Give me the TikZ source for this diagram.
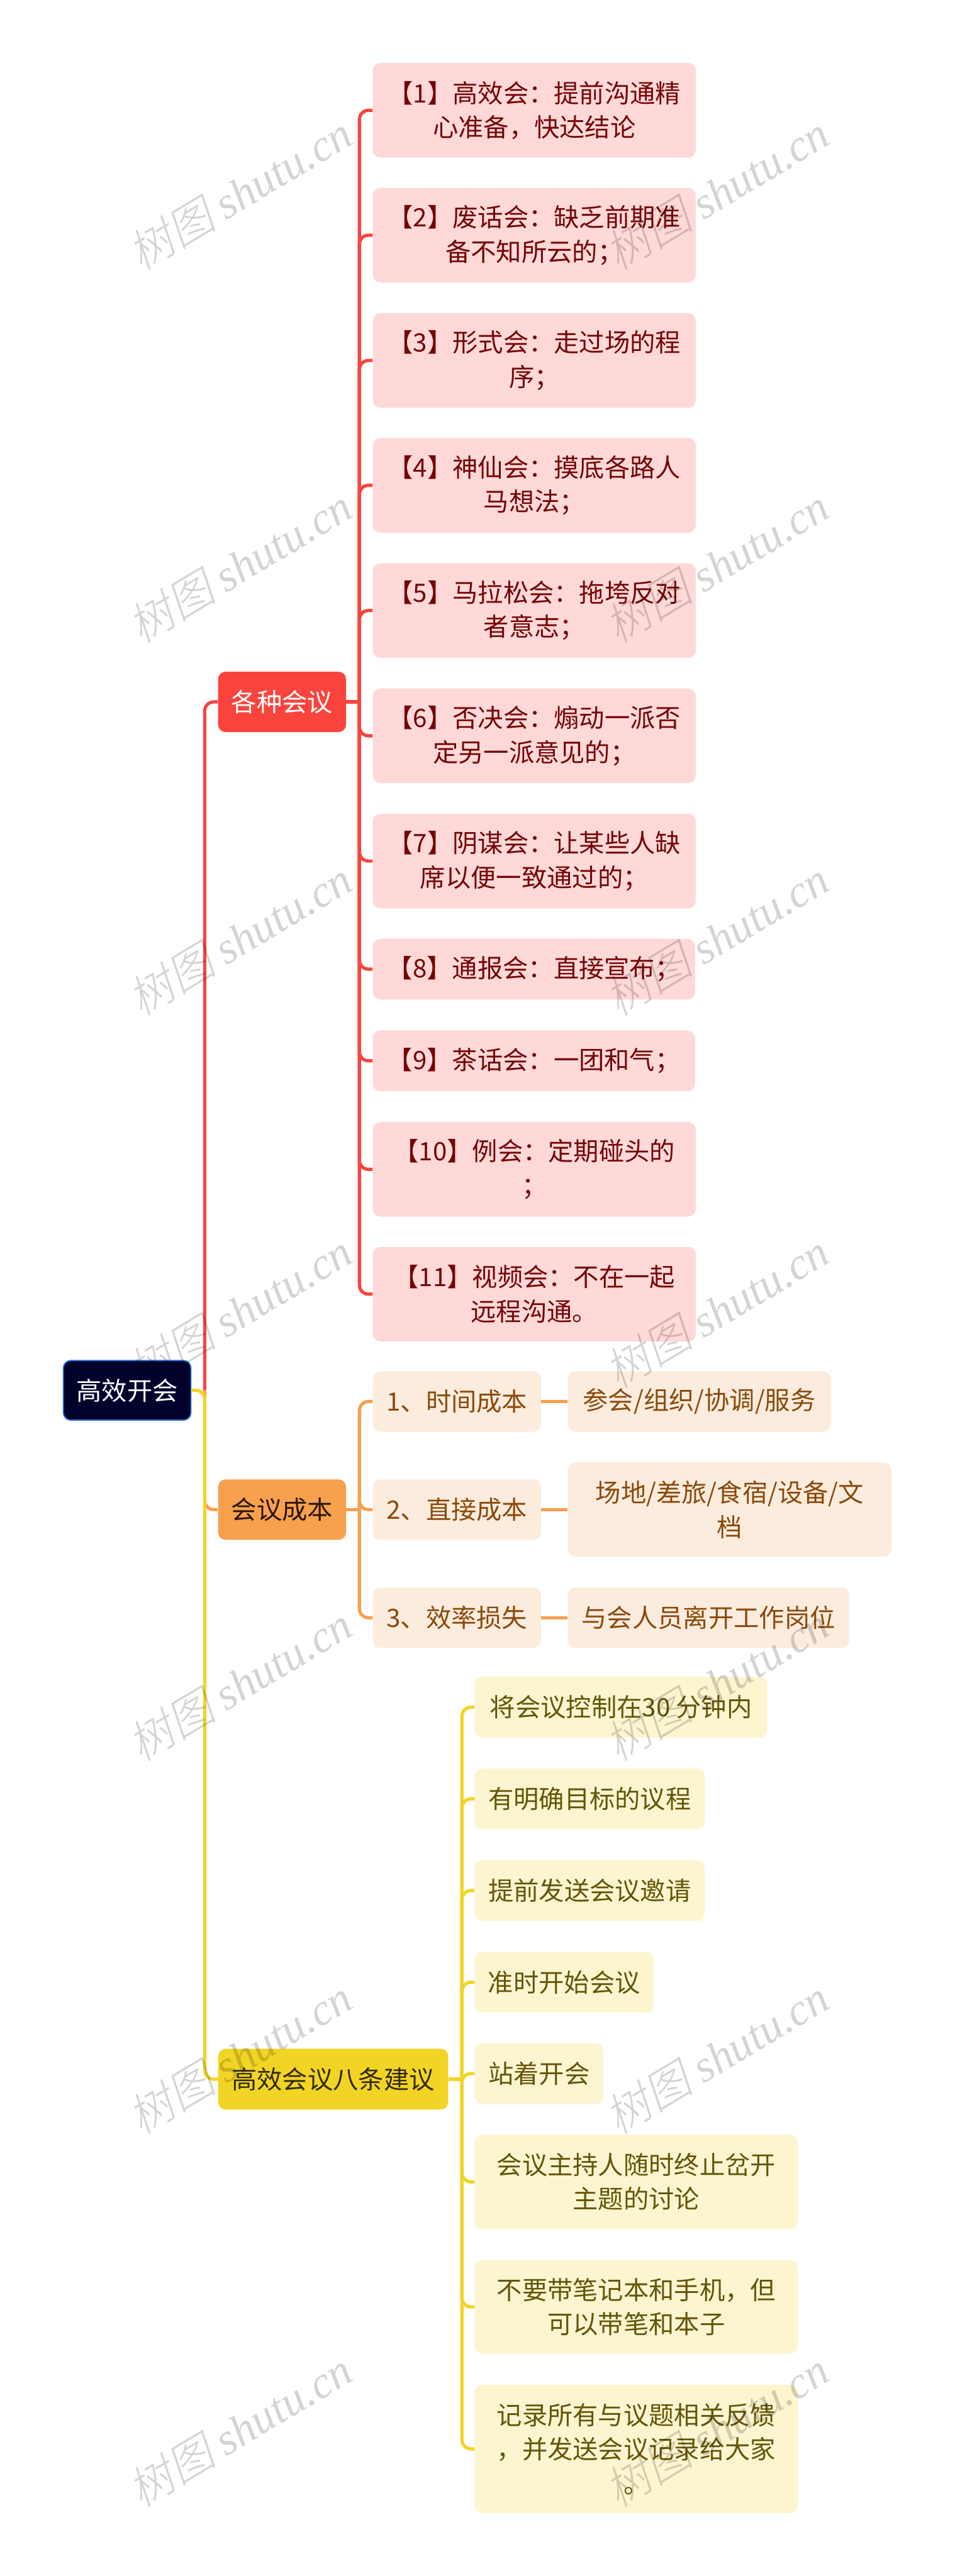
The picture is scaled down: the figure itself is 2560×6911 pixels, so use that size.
\documentclass[tikz,border=0pt]{standalone}
\usepackage{xcolor}
\usepackage{fontspec}
\usepackage{tikz}
\setmainfont{Noto Sans CJK SC}
\newfontfamily\wmcjk[FakeSlant=0.22]{Noto Sans CJK SC Light}
\newfontfamily\wmlatin{Liberation Serif}
\definecolor{rootfill}{HTML}{00022B}
\definecolor{rootedge}{HTML}{2A6FDB}
\definecolor{redline}{HTML}{F9443D}
\definecolor{redlight}{HTML}{FED9D8}
\definecolor{redtext}{HTML}{750404}
\definecolor{orangeline}{HTML}{F7A04D}
\definecolor{orangelight}{HTML}{FCECDD}
\definecolor{orangetext}{HTML}{8A4A0C}
\definecolor{yellowline}{HTML}{F2D424}
\definecolor{yellowlight}{HTML}{FCF5D0}
\definecolor{yellowtext}{HTML}{655508}
\tikzset{
	wh/.style 2 args={minimum width=#1*0.25pt,minimum height=#2*0.25pt},
	boxbase/.style={rounded corners=5pt,inner sep=0pt,align=center},
	rootbox/.style={boxbase,fill=rootfill,draw=rootedge,line width=0.8pt,text=white},
	redbranch/.style={boxbase,fill=redline,text=white},
	redleaf/.style={boxbase,fill=redlight,text=redtext},
	orangebranch/.style={boxbase,fill=orangeline,text=black!70!orangetext},
	orangeleaf/.style={boxbase,fill=orangelight,text=orangetext},
	yellowbranch/.style={boxbase,fill=yellowline,text=black!50!yellowtext},
	yellowleaf/.style={boxbase,fill=yellowlight,text=yellowtext},
	wire/.style={line width=2.2pt,rounded corners=6pt},
	wmtext/.style={rotate=31,inner sep=0pt,text=black,text opacity=0.17,font=\fontsize{30}{30}\selectfont}
}
\begin{document}
\begin{tikzpicture}
	[x=0.25pt,y=-0.25pt,every node/.style={font=\fontsize{17}{23}\selectfont}]
	\useasboundingbox (0,0) rectangle (2560,6911);
	\node[rootbox,wh={342}{160}] (root) at (341,3730) {高效开会};
	\node[redbranch,wh={343}{162}] (meetings) at (756.5,1883) {各种会议};
	\node[orangebranch,wh={343}{162}] (cost) at (756.5,4050) {会议成本};
	\node[yellowbranch,wh={617}{163}] (advice) at (893.5,5578) {高效会议八条建议};
	\coordinate (junction) at (549,3730);
	\coordinate (redstem) at (964,1883);
	\coordinate (orangestem) at (964,4050);
	\coordinate (yellowstem) at (1239,5578);

	\node[redleaf,wh={866}{254}] (m1) at (1433,296) {【1】高效会：提前沟通精\\心准备，快达结论};
	\node[redleaf,wh={866}{254}] (m2) at (1433,631) {【2】废话会：缺乏前期准\\备不知所云的；};
	\node[redleaf,wh={866}{254}] (m3) at (1433,967) {【3】形式会：走过场的程\\序；};
	\node[redleaf,wh={866}{254}] (m4) at (1433,1302) {【4】神仙会：摸底各路人\\马想法；};
	\node[redleaf,wh={866}{254}] (m5) at (1433,1638) {【5】马拉松会：拖垮反对\\者意志；};
	\node[redleaf,wh={866}{254}] (m6) at (1433,1974) {【6】否决会：煽动一派否\\定另一派意见的；};
	\node[redleaf,wh={866}{254}] (m7) at (1433,2310) {【7】阴谋会：让某些人缺\\席以便一致通过的；};
	\node[redleaf,wh={864}{163}] (m8) at (1432,2600) {【8】通报会：直接宣布；};
	\node[redleaf,wh={864}{163}] (m9) at (1432,2846) {【9】茶话会：一团和气；};
	\node[redleaf,wh={866}{254}] (m10) at (1433,3137) {【10】例会：定期碰头的\\；};
	\node[redleaf,wh={866}{254}] (m11) at (1433,3472) {【11】视频会：不在一起\\远程沟通。};

	\node[orangeleaf,wh={451}{162}] (c1) at (1225.5,3760) {1、时间成本};
	\node[orangeleaf,wh={451}{162}] (c2) at (1225.5,4050) {2、直接成本};
	\node[orangeleaf,wh={451}{162}] (c3) at (1225.5,4340) {3、效率损失};
	\node[orangeleaf,wh={705}{162}] (d1) at (1875.5,3760) {参会/组织/协调/服务};
	\node[orangeleaf,wh={867}{253}] (d2) at (1957,4050) {场地/差旅/食宿/设备/文\\档};
	\node[orangeleaf,wh={754}{162}] (d3) at (1900,4340) {与会人员离开工作岗位};

	\node[yellowleaf,wh={785}{163}] (a1) at (1665.5,4580) {将会议控制在30 分钟内};
	\node[yellowleaf,wh={617}{163}] (a2) at (1581.5,4826) {有明确目标的议程};
	\node[yellowleaf,wh={617}{163}] (a3) at (1581.5,5072) {提前发送会议邀请};
	\node[yellowleaf,wh={480}{163}] (a4) at (1513,5318) {准时开始会议};
	\node[yellowleaf,wh={345}{163}] (a5) at (1445.5,5563) {站着开会};
	\node[yellowleaf,wh={867}{253}] (a6) at (1706.5,5853.5) {会议主持人随时终止岔开\\主题的讨论};
	\node[yellowleaf,wh={867}{251}] (a7) at (1706.5,6189) {不要带笔记本和手机，但\\可以带笔和本子};
	\node[yellowleaf,wh={867}{344}] (a8) at (1706.5,6570) {记录所有与议题相关反馈\\，并发送会议记录给大家\\。};

	\draw[wire,redline] (junction) |- (meetings.west);
	\draw[wire,orangeline] (junction) |- (cost.west);
	\draw[wire,yellowline] (root.east) -- (junction) |- (advice.west);

	\draw[wire,redline] (meetings.east) -- (redstem);
	\foreach \leaf in {m1,m2,m3,m4,m5,m6,m7,m8,m9,m10,m11}
		\draw[wire,redline] (redstem) |- (\leaf.west);

	\draw[wire,orangeline] (cost.east) -- (orangestem);
	\foreach \leaf in {c1,c2,c3}
		\draw[wire,orangeline] (orangestem) |- (\leaf.west);
	\draw[wire,orangeline] (c1.east) -- (d1.west);
	\draw[wire,orangeline] (c2.east) -- (d2.west);
	\draw[wire,orangeline] (c3.east) -- (d3.west);

	\draw[wire,yellowline] (advice.east) -- (yellowstem);
	\foreach \leaf in {a1,a2,a3,a4,a5,a6,a7,a8}
		\draw[wire,yellowline] (yellowstem) |- (\leaf.west);

	\foreach \row in {0,...,6} {
		\node[wmtext] (wmleft\row) at (642,{517+1000*\row}) {{\wmcjk 树图} {\wmlatin\itshape shutu.cn}};
		\node[wmtext] (wmright\row) at (1922,{517+1000*\row}) {{\wmcjk 树图} {\wmlatin\itshape shutu.cn}};
	}
\end{tikzpicture}
\end{document}
